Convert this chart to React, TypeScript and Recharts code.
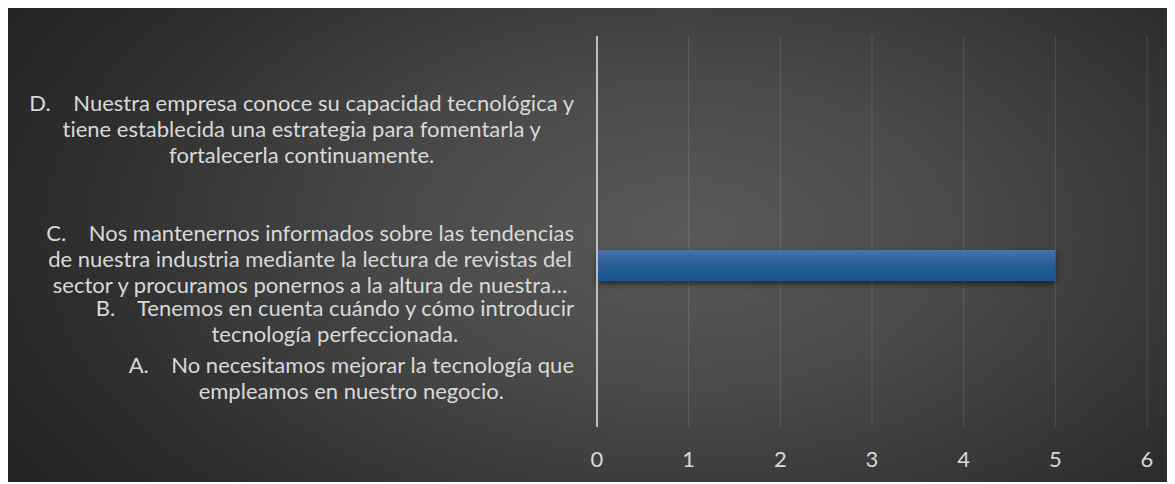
import React, { useLayoutEffect, useRef, useState } from "react";
import { BarChart, Bar, XAxis, YAxis, CartesianGrid } from "recharts";

// categories top to bottom, as in the sheet
const categories = ["D", "C", "B", "A"];
const values = [0, 5, 0, 0];
const xTicks = [0, 1, 2, 3, 4, 5, 6];

const GAP = "\u00a0".repeat(4);
const labelLines: string[][] = [
  [
    `D.${GAP}Nuestra empresa conoce su capacidad tecnológica y`,
    "tiene establecida una estrategia para fomentarla y",
    "fortalecerla continuamente.",
  ],
  [
    `C.${GAP}Nos mantenernos informados sobre las tendencias`,
    "de nuestra industria mediante la lectura de revistas del",
    "sector y procuramos ponernos a la altura de nuestra…",
  ],
  [`B.${GAP}Tenemos en cuenta cuándo y cómo introducir`, "tecnología perfeccionada."],
  [`A.${GAP}No necesitamos mejorar la tecnología que`, "empleamos en nuestro negocio."],
];

// vertical nudge of each wrapped label from its band centre (Excel stacks them this way)
const labelShift = [-73, -7, -9, -16];

const data = categories.map((name, i) => ({ name, value: values[i] }));

const FONT = "Lato, 'Open Sans', sans-serif";
const LABEL_SIZE = 22;
const LINE_H = 26;
const TEXT = "#d9d9d9";

function CategoryTick(props: any) {
  const { x, y, payload } = props;
  const i = categories.indexOf(payload.value);
  const lines = labelLines[i] || [];
  const first = useRef<SVGTextElement>(null);
  const [w, setW] = useState(0);
  useLayoutEffect(() => {
    if (first.current) setW(first.current.getComputedTextLength());
  }, [x, y, i]);
  const top = y + labelShift[i] - ((lines.length - 1) * LINE_H) / 2;
  const common = {
    fill: TEXT,
    fontSize: LABEL_SIZE,
    fontFamily: FONT,
    dominantBaseline: "central" as const,
    style: { whiteSpace: "pre" as const, fontVariantLigatures: "none" },
  };
  return (
    <g>
      <text ref={first} x={x} y={top} textAnchor="end" {...common}>
        {lines[0]}
      </text>
      {lines.slice(1).map((line, k) => (
        <text key={k} x={x - w / 2} y={top + (k + 1) * LINE_H} textAnchor="middle" {...common}>
          {line}
        </text>
      ))}
    </g>
  );
}

function ValueTick(props: any) {
  const { x, y, payload } = props;
  return (
    <text
      x={x}
      y={y + 31}
      fill={TEXT}
      fontSize={22}
      fontFamily={FONT}
      textAnchor="middle"
      dominantBaseline="central"
    >
      {payload.value}
    </text>
  );
}

export default function App() {
  return (
    <div
      style={{
        position: "relative",
        top: -2,
        left: -2,
        width: 1169,
        height: 476,
        background:
          "radial-gradient(ellipse 68% 95% at 58% 48%, #5a5a5a 0%, #4a4a4a 35%, #2f2f2f 75%, #232323 100%)",
      }}
    >
      <BarChart
        width={1169}
        height={476}
        data={data}
        layout="vertical"
        margin={{ top: 30, right: 28, bottom: 0, left: 0 }}
      >
        <defs>
          <linearGradient id="barGrad" x1="0" y1="0" x2="0" y2="1">
            <stop offset="0%" stopColor="#4b73a9" />
            <stop offset="45%" stopColor="#2a5f98" />
            <stop offset="100%" stopColor="#1b528d" />
          </linearGradient>
          <filter id="barShadow" x="-5%" y="-30%" width="110%" height="180%">
            <feDropShadow dx="0" dy="3" stdDeviation="3" floodColor="#000" floodOpacity="0.55" />
          </filter>
        </defs>
        <CartesianGrid horizontal={false} stroke="rgba(255,255,255,0.13)" strokeWidth={1} />
        <XAxis
          type="number"
          domain={[0, 6]}
          ticks={xTicks}
          axisLine={false}
          tickLine={false}
          tickSize={0}
          tickMargin={0}
          height={55}
          tick={<ValueTick />}
        />
        <YAxis
          type="category"
          dataKey="name"
          width={591}
          padding={{ top: 133, bottom: 2 }}
          axisLine={{ stroke: "#bfbfbf", strokeWidth: 2 }}
          tickLine={false}
          tickSize={0}
          tickMargin={23}
          interval={0}
          tick={<CategoryTick />}
        />
        <Bar
          dataKey="value"
          fill="url(#barGrad)"
          barSize={31}
          filter="url(#barShadow)"
          isAnimationActive={false}
        />
      </BarChart>
    </div>
  );
}
